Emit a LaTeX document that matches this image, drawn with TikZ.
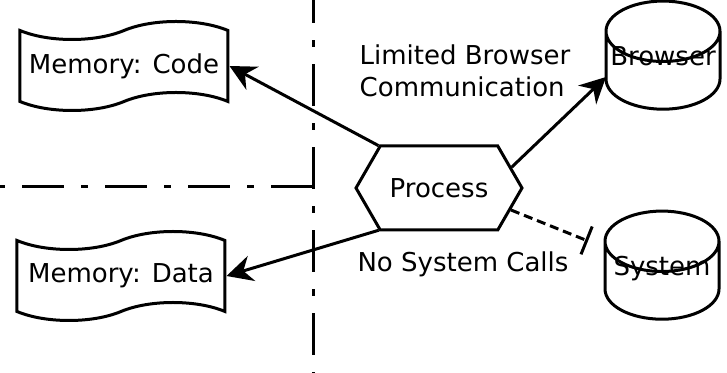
\documentclass[tikz,border=0pt]{standalone}
\usepackage{fontspec}
\setmainfont{DejaVu Sans}
\usetikzlibrary{positioning, calc, arrows.meta, shapes.symbols, shapes.geometric}

\begin{document}
\begin{tikzpicture}[
    >={Stealth[length=13pt,width=13pt]},
    on grid,
    line width=1.5pt,
    font=\fontsize{13}{16}\selectfont,
    memory/.style={draw, tape, tape bend height=9pt, minimum width=104pt, minimum height=44.5pt, inner sep=0pt},
    store/.style={draw, cylinder, shape border rotate=90, aspect=0.53,
        minimum width=57pt, inner sep=0pt,
        text width=57pt, align=center, text height=0pt, text depth=8pt},
    procbox/.style={draw, signal, signal to=east and west, signal pointer angle=120,
        minimum width=83pt, minimum height=42pt, inner sep=0pt},
    note/.style={align=left, inner sep=0pt},
    boundary/.style={dash pattern=on 21pt off 8.5pt on 3.5pt off 8.5pt}
]
\useasboundingbox (-219.5pt,-92.5pt) rectangle (144pt,94pt);

% 进程与内存
\node[procbox] (proc) {Process};
\node[memory, above left=61pt and 157.5pt of proc] (code) {Memory: Code};
\node[memory, below left=44pt and 159pt of proc] (data) {Memory: Data};

% 外部资源
\node[store, above right=58.5pt and 112pt of proc] (browser) {\raisebox{-1.5pt}{Browser}};
\node[store, below right=46.5pt and 111.5pt of proc] (sys) {\raisebox{-1.5pt}{System}};

% 说明文字
\node[note, above right=58.5pt and 13pt of proc] (limit) {Limited Browser\\Communication};
\node[note, below right=38pt and 12pt of proc] (nosys) {No System Calls};

% 隔离边界
\coordinate (top) at (-63pt,94pt);
\coordinate (bottom) at (-63pt,-92.5pt);
\coordinate (corner) at (-63pt,0.5pt);
\coordinate (left) at (-219.5pt,0.5pt);
\draw[boundary, dash phase=32.5pt] (bottom) -- (top);
\draw[boundary] (corner) -- (left);

% 连线
\draw[->] (proc.145) -- (code.east);
\draw[->] (proc.215) -- (data.east);
\draw[->] (proc.16) -- ([shift={(-28.5pt,-3pt)}]browser.center);
\draw[dash pattern=on 4.5pt off 2.5pt, -{Bar[width=15pt]}] (proc.-17) -- ([shift={(-37pt,20pt)}]sys.center);

\end{tikzpicture}
\end{document}
